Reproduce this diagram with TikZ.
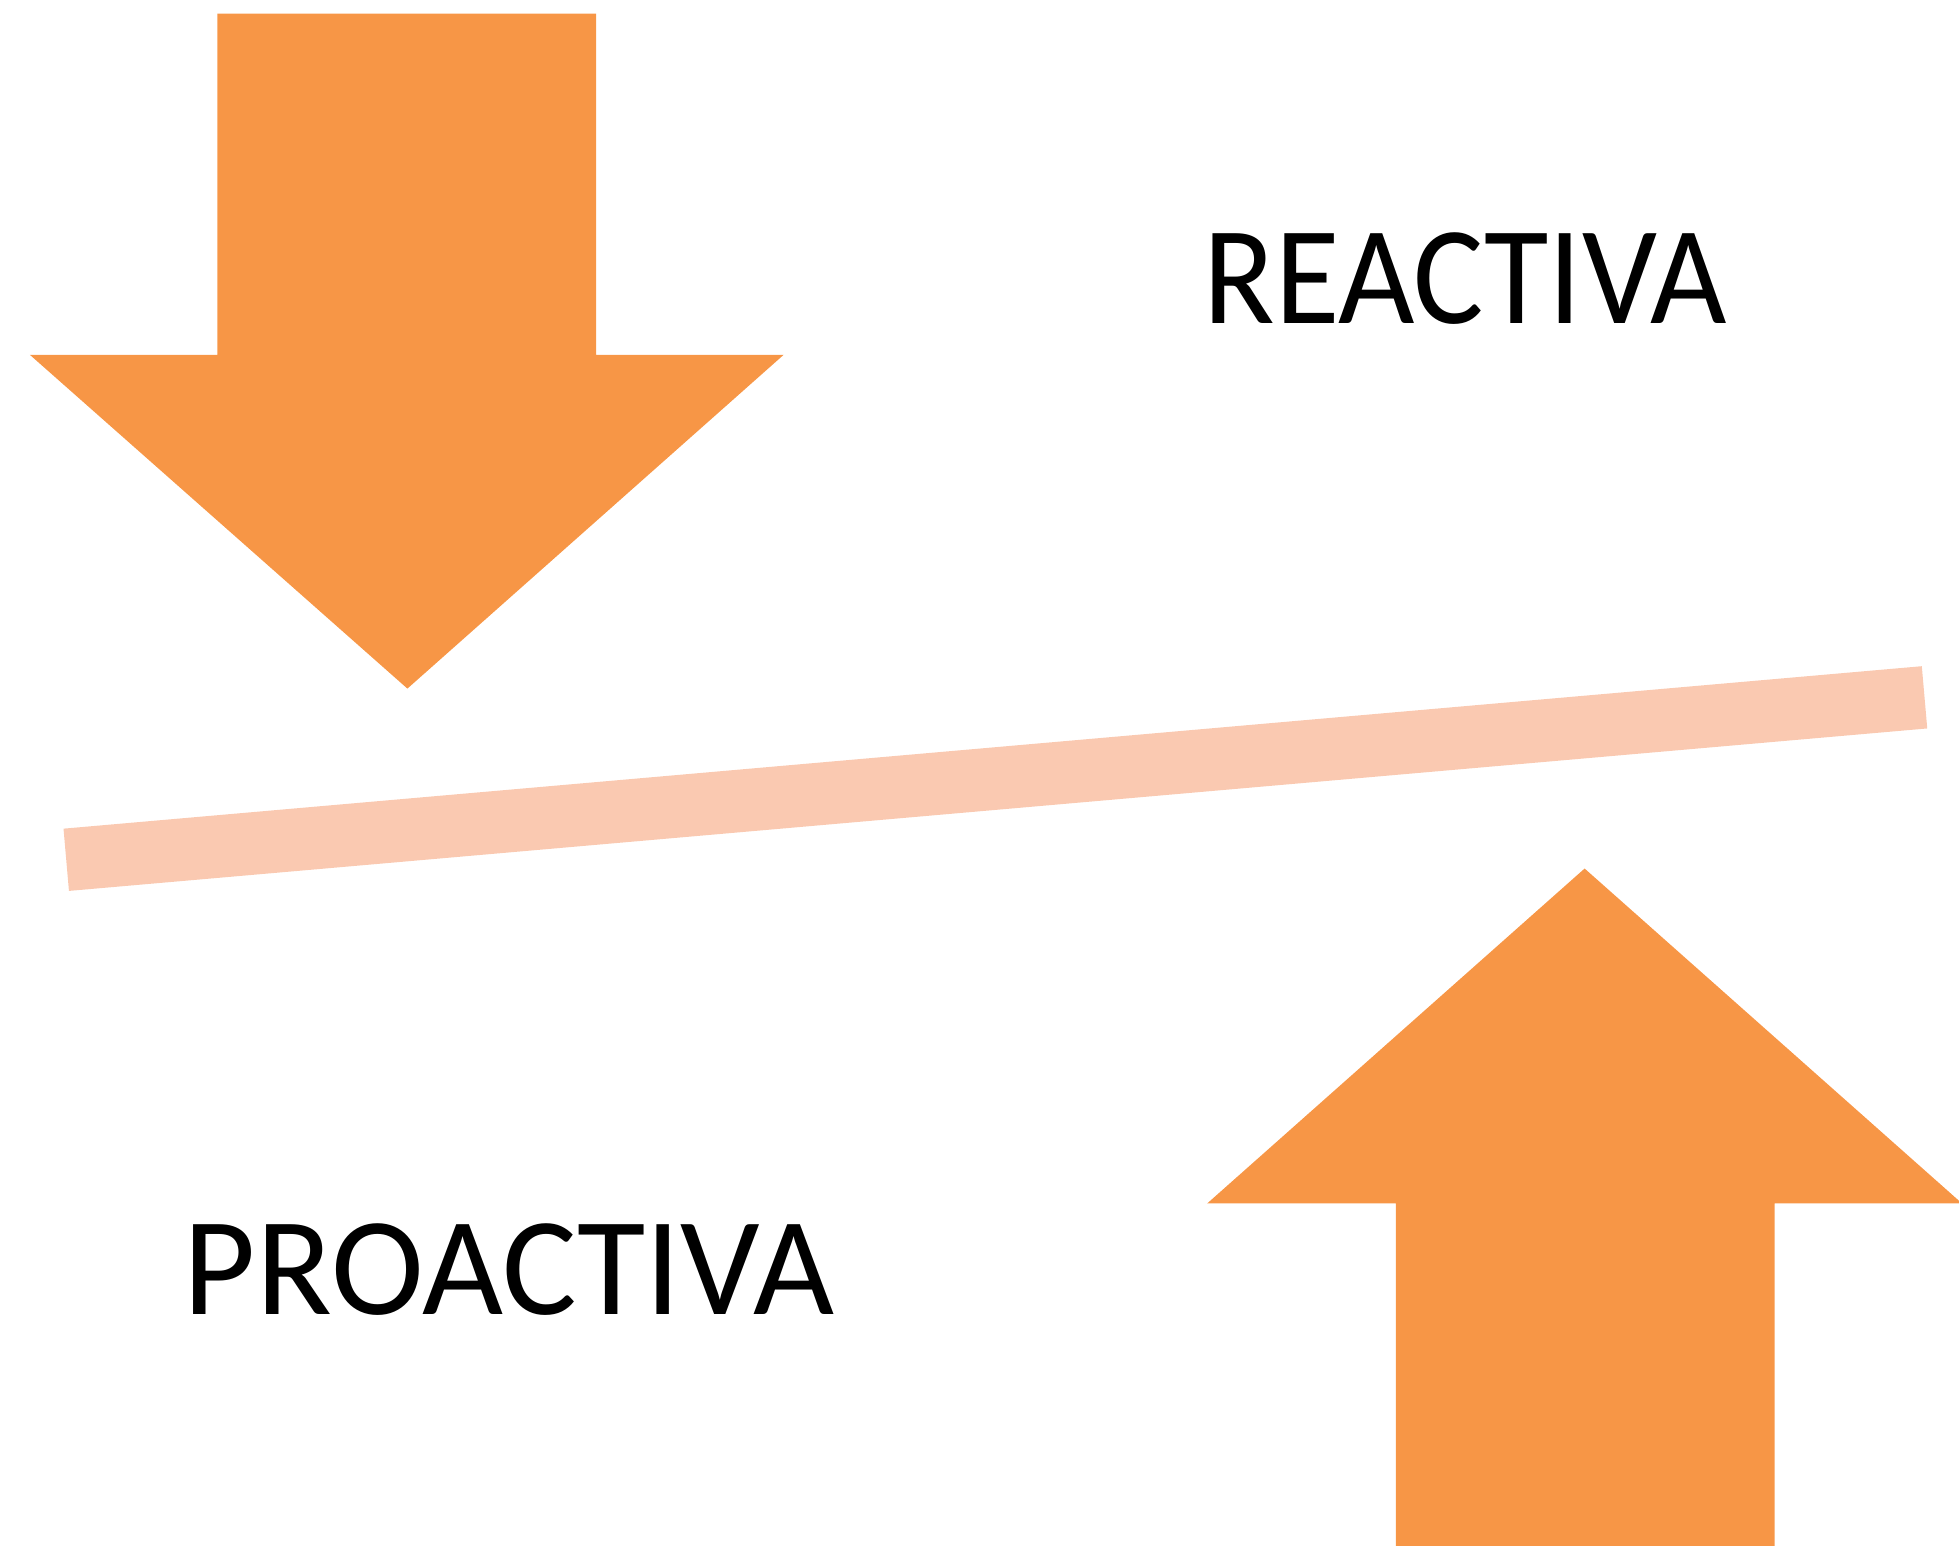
\documentclass[tikz,border=0pt]{standalone}
\usepackage{fontspec}
\setmainfont{Carlito}
\usepackage{xcolor}
\definecolor{arroworange}{RGB}{247,150,70}
\definecolor{barpeach}{RGB}{250,201,177}
\tikzstyle{bigarrow} = [fill=arroworange, draw=none]
\tikzstyle{barline} = [line width=50pt, color=barpeach, line cap=butt]
\tikzstyle{label} = [font=\fontsize{112}{120}\selectfont, inner sep=0pt, text=black]

\begin{document}
\begin{tikzpicture}[x=1pt, y=-1pt]
\useasboundingbox (0,0) rectangle (1567.6,1236.5);

% Reactiva arrow (down)
\fill[bigarrow] (174,11) -- (477,11) -- (477,284) -- (627,284) -- (326,551)
  -- (24,284) -- (174,284) -- cycle;

% Proactiva arrow (up)
\fill[bigarrow] (1117,1240) -- (1420,1240) -- (1420,963) -- (1570,963) -- (1268,695)
  -- (966,963) -- (1117,963) -- cycle;

% Tilted bar
\coordinate (barl) at (53,688);
\coordinate (barr) at (1540,558);
\draw[barline] (barl) -- (barr);

% Labels
\node[label, anchor=base west, xscale=0.943] (reactiva) at (963,259) {REACTIVA};
\node[label, anchor=base west] (proactiva) at (147,1052) {PROACTIVA};
\end{tikzpicture}
\end{document}
